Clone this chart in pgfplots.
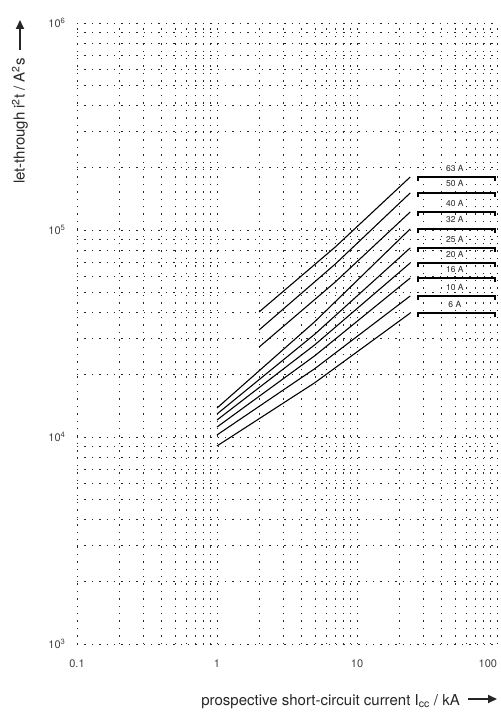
\documentclass[border=0pt]{standalone}
\usepackage{fontspec}
\setmainfont{TeX Gyre Heros}
\usepackage{pgfplots}
\pgfplotsset{compat=1.18}
\usetikzlibrary{arrows.meta}
\begin{document}
\begin{tikzpicture}
\begin{axis}[
  name=ax, at={(0,0)}, anchor=south west,
  scale only axis, width=420pt, height=621pt,
  xmode=log, ymode=log,
  xmin=0.1, xmax=100, ymin=1e3, ymax=1e6,
  axis line style={draw=none},
  major tick length=0pt, minor tick length=0pt,
  grid=both,
  major grid style={black!85, line width=0.65pt, dash pattern=on 1.4pt off 6pt},
  minor grid style={black!85, line width=0.65pt, dash pattern=on 1.4pt off 6pt},
  xtick={0.1,1,10,100}, xticklabels={0.1,1,10,\hbox to 0pt{\hss 100}},
  minor xtick={0.2,0.3,0.4,0.5,0.6,0.7,0.8,0.9,2,3,4,5,6,7,8,9,20,30,40,50,60,70,80,90},
  ytick={1000,10000,100000,1000000},
  yticklabels={10\textsuperscript{3},10\textsuperscript{4},10\textsuperscript{5},10\textsuperscript{6}},
  minor ytick={2000,3000,4000,5000,6000,7000,8000,9000,20000,30000,40000,50000,60000,70000,80000,90000,200000,300000,400000,500000,600000,700000,800000,900000},
  tick label style={font=\fontsize{11}{13}\selectfont, text=black!75},
  xticklabel style={yshift=-12pt},
  yticklabel style={xshift=-8pt},
  clip=false,
]
% curves starting at 1 kA
\addplot[black, line width=1.1pt] coordinates {(1,1.380e4)(5,3.61e4)(24,1.012e5)};
\addplot[black, line width=1.1pt] coordinates {(1,1.291e4)(5,3.14e4)(24,8.19e4)};
\addplot[black, line width=1.1pt] coordinates {(1,1.208e4)(5,2.79e4)(24,6.93e4)};
\addplot[black, line width=1.1pt] coordinates {(1,1.117e4)(5,2.47e4)(24,5.86e4)};
\addplot[black, line width=1.1pt] coordinates {(1,1.023e4)(5,2.14e4)(24,4.80e4)};
\addplot[black, line width=1.1pt] coordinates {(1,9.05e3)(5,1.83e4)(24,3.97e4)};
% curves starting at 2 kA
\addplot[black, line width=1.1pt] coordinates {(2,4.02e4)(7,8.28e4)(24,1.803e5)};
\addplot[black, line width=1.1pt] coordinates {(2,3.29e4)(7,6.85e4)(24,1.510e5)};
\addplot[black, line width=1.1pt] coordinates {(2,2.72e4)(7,5.61e4)(24,1.222e5)};
% label lines
\addplot[black, line width=1.3pt] coordinates {(27.3,1.724e5)(27.3,1.803e5)(96.8,1.803e5)(96.8,1.724e5)};
\addplot[black, line width=1.3pt] coordinates {(27.3,1.444e5)(27.3,1.510e5)(96.8,1.510e5)(96.8,1.444e5)};
\addplot[black, line width=1.3pt] coordinates {(27.3,1.168e5)(27.3,1.222e5)(96.8,1.222e5)(96.8,1.168e5)};
\addplot[black, line width=1.3pt] coordinates {(27.3,9.67e4)(27.3,1.012e5)(96.8,1.012e5)(96.8,9.67e4)};
\addplot[black, line width=1.3pt] coordinates {(27.3,7.83e4)(27.3,8.19e4)(96.8,8.19e4)(96.8,7.83e4)};
\addplot[black, line width=1.3pt] coordinates {(27.3,6.63e4)(27.3,6.93e4)(96.8,6.93e4)(96.8,6.63e4)};
\addplot[black, line width=1.3pt] coordinates {(27.3,5.60e4)(27.3,5.86e4)(96.8,5.86e4)(96.8,5.60e4)};
\addplot[black, line width=1.3pt] coordinates {(27.3,4.59e4)(27.3,4.80e4)(96.8,4.80e4)(96.8,4.59e4)};
\addplot[black, line width=1.3pt] coordinates {(27.3,3.80e4)(27.3,3.97e4)(96.8,3.97e4)(96.8,3.80e4)};
\begin{scope}[every node/.style={font=\fontsize{8.5}{9}\selectfont, text=black!85, fill=white, inner sep=0.8pt}]
\node at (axis cs:50,1.99e5) {63 A};
\node at (axis cs:50,1.67e5) {50 A};
\node at (axis cs:50,1.35e5) {40 A};
\node at (axis cs:50,1.118e5) {32 A};
\node at (axis cs:50,9.05e4) {25 A};
\node at (axis cs:50,7.66e4) {20 A};
\node at (axis cs:50,6.48e4) {16 A};
\node at (axis cs:50,5.30e4) {10 A};
\node at (axis cs:50,4.39e4) {6 A};
\end{scope}
\end{axis}
\node[rotate=90, anchor=east, inner sep=0pt, font=\fontsize{15}{18}\selectfont, text=black!85] at (-57pt,586pt) {let-through i\textsuperscript{2}t / A\textsuperscript{2}s};
\draw[-{Triangle[length=9pt,width=8pt]}, line width=2pt, black!85] (-57pt,594pt) -- (-57pt,624pt);
\node[anchor=base east, inner sep=0pt, font=\fontsize{15}{18}\selectfont, text=black!85] at (383pt,-61pt) {prospective short-circuit current I\textsubscript{cc} / kA};
\draw[-{Triangle[length=9pt,width=8pt]}, line width=2pt, black!85] (391pt,-55pt) -- (420pt,-55pt);
\pgfresetboundingbox
\path[use as bounding box] (-77pt,-72pt) rectangle (424pt,644pt);
\end{tikzpicture}
\end{document}
